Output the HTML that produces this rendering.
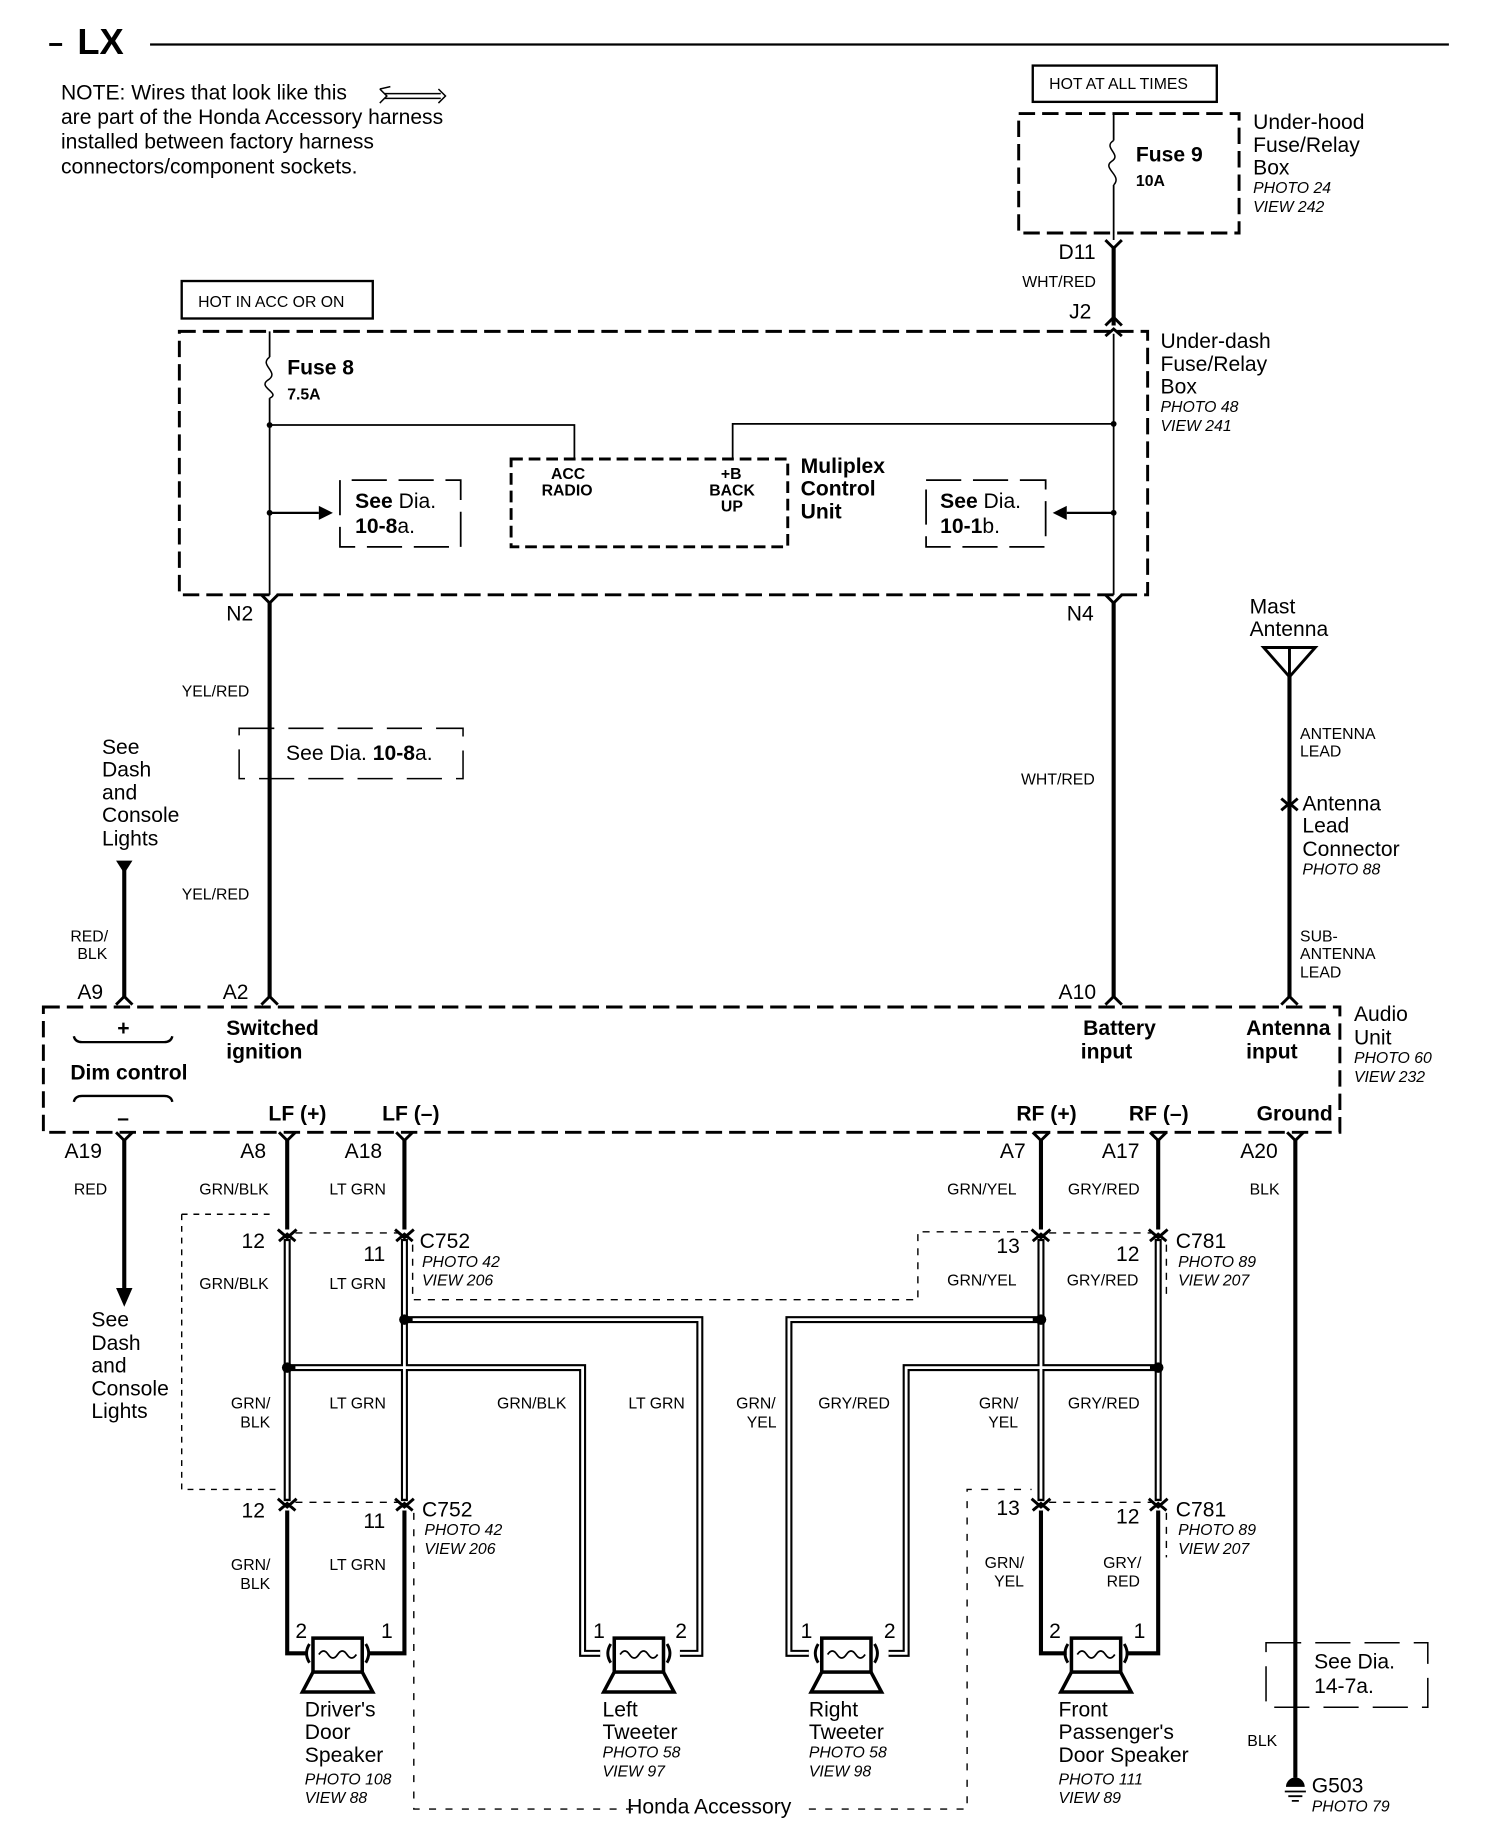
<!DOCTYPE html>
<html><head><meta charset="utf-8"><style>
html,body{margin:0;padding:0;background:#fff}
svg{display:block}
text{font-family:"Liberation Sans",Arial,sans-serif;fill:#000}
.s{font-size:13.5px}.m{font-size:18px}.b{font-weight:bold}.i{font-style:italic;font-size:13.5px}
</style></head><body>
<svg width="1504" height="1836" viewBox="0 0 1283 1568" preserveAspectRatio="none" xmlns="http://www.w3.org/2000/svg">
<rect width="1290" height="1568" fill="#fff"/>
<line x1="42" y1="38" x2="53" y2="38" stroke="#000" stroke-width="2.5"/>
<text x="66" y="46" style="font-size:31px;font-weight:bold">LX</text>
<line x1="128" y1="38" x2="1236" y2="38" stroke="#000" stroke-width="2"/>
<text class="m" x="52" y="85">NOTE: Wires that look like this</text>
<path d="M324 76 L333 74 M328 80 L376 80 M328 84 L376 84 M374 76 L380 82 L374 88 M324 76 L330 82 L324 88" stroke="#000" stroke-width="1.3" fill="none"/>
<text class="m" x="52" y="106">are part of the Honda Accessory harness</text>
<text class="m" x="52" y="127">installed between factory harness</text>
<text class="m" x="52" y="148">connectors/component sockets.</text>

<g fill="none" stroke="#000">
<rect x="881" y="56" width="157" height="31" stroke-width="2"/>
<rect x="155" y="240" width="163" height="32" stroke-width="2"/>
<rect x="869" y="97" width="188" height="102" stroke-width="2.5" stroke-dasharray="14,6"/>
<rect x="153" y="283" width="826" height="225" stroke-width="2.5" stroke-dasharray="14,6"/>
<rect x="436" y="392" width="236" height="75" stroke-width="2.5" stroke-dasharray="10,5"/>
<path d="M300 410 H393 V467 H290 V410 Z" stroke-width="1.5" stroke-dasharray="30,10"/>
<path d="M790 410 H892 V467 H790 Z" stroke-width="1.5" stroke-dasharray="30,10"/>
<path d="M204 622 H395 V665 H204 Z" stroke-width="1.3" stroke-dasharray="30,12"/>
<path d="M1080 1403 H1218 V1458 H1080 Z" stroke-width="1.3" stroke-dasharray="30,12"/>
<rect x="37" y="860" width="1106" height="107" stroke-width="2.5" stroke-dasharray="14,6"/>
<path d="M155 1037 H232 M155 1037 V1272 H235" stroke-width="1.2" stroke-dasharray="5,5"/>
<path d="M352 1063 V1110 H783 V1052 H880" stroke-width="1.2" stroke-dasharray="6,6"/>
<path d="M252 1053 H340" stroke-width="1.2" stroke-dasharray="6,6"/>
<path d="M895 1053 H982" stroke-width="1.2" stroke-dasharray="6,6"/>
<path d="M995 1063 V1110" stroke-width="1.2" stroke-dasharray="6,6"/>
<path d="M252 1283 H340" stroke-width="1.2" stroke-dasharray="6,6"/>
<path d="M895 1283 H982" stroke-width="1.2" stroke-dasharray="6,6"/>
<path d="M353 1292 V1545 H540 M690 1545 H825 V1272 H880" stroke-width="1.2" stroke-dasharray="6,8"/>
<path d="M995 1292 V1330" stroke-width="1.2" stroke-dasharray="6,6"/>

<path d="M950 97 V120 M950 158 V205" stroke-width="1.5"/>
<path d="M950 120 C940 126 958 132 948 138 C940 144 958 150 950 158" stroke-width="1.3"/>
<path d="M230 283 V305 M230 340 V508" stroke-width="1.5"/>
<path d="M230 305 C220 312 240 318 228 325 C220 331 240 336 230 340" stroke-width="1.3"/>
<path d="M230 363 H490 V392 M625 392 V362 H950" stroke-width="1.5"/>
<path d="M950 285 V508" stroke-width="1.5"/>
<path d="M230 438 H272" stroke-width="2"/>
<path d="M950 438 H910" stroke-width="2"/>

<g stroke-width="3.5">
<path d="M950 210 V278"/>
<path d="M230 515 V852"/>
<path d="M950 515 V852"/>
<path d="M1100 575 V852"/>
<path d="M106 742 V852"/>
<path d="M106 973 V1100"/>
<path d="M245 973 V1050 M345 973 V1050 M888 973 V1050 M988 973 V1050"/>
<path d="M245 1290 V1412 H262 M345 1290 V1412 H314"/>
<path d="M888 1290 V1412 H910 M988 1290 V1412 H962"/>
<path d="M1105 973 V1518"/>
</g>
<path d="M1078 553 H1122 L1100 578 Z M1100 553 V578" stroke-width="2.5"/>
<g stroke-width="2.5">
<path d="M943 205 L950 212 L957 205 M943 278 L950 271 L957 278"/>
<path d="M943 287 L950 281 L957 287"/>
<path d="M223 508 L230 515 L237 508 M943 508 L950 515 L957 508"/>
<path d="M223 858 L230 851 L237 858 M943 858 L950 851 L957 858 M1093 858 L1100 851 L1107 858 M99 858 L106 851 L113 858"/>
<path d="M99 967 L106 974 L113 967 M238 967 L245 974 L252 967 M338 967 L345 974 L352 967 M881 967 L888 974 L895 967 M981 967 L988 974 L995 967 M1098 967 L1105 974 L1112 967"/>
<path d="M1093 682 L1100 688 L1107 682 M1093 692 L1100 686 L1107 692"/>
<path d="M237 1050 L245 1057 L253 1050 M238 1060 L245 1054 L252 1060 M337 1050 L345 1057 L353 1050 M338 1060 L345 1054 L352 1060 M880 1050 L888 1057 L896 1050 M881 1060 L888 1054 L895 1060 M980 1050 L988 1057 L996 1050 M981 1060 L988 1054 L995 1060"/>
<path d="M237 1280 L245 1287 L253 1280 M238 1290 L245 1284 L252 1290 M337 1280 L345 1287 L353 1280 M338 1290 L345 1284 L352 1290 M880 1280 L888 1287 L896 1280 M881 1290 L888 1284 L895 1290 M980 1280 L988 1287 L996 1280 M981 1290 L988 1284 L995 1290"/>
</g>
<path d="M63 885 Q64 890 70 890 H140 Q146 890 147 885 M63 941 Q64 936 70 936 H140 Q146 936 147 941" stroke-width="2"/>
<g stroke-width="6">
<path d="M245 1058 V1282 M345 1058 V1282 M888 1058 V1282 M988 1058 V1282"/>
<path d="M245 1168 H497 V1412 H512 M345 1127 H597 V1412 H580"/>
<path d="M888 1127 H673 V1412 H690 M988 1168 H773 V1412 H758"/>
</g>
<g stroke="#fff" stroke-width="2.4">
<path d="M245 1060 V1280 M345 1060 V1280 M888 1060 V1280 M988 1060 V1280"/>
<path d="M252 1168 H497 V1412 H512 M352 1127 H597 V1412 H580"/>
<path d="M881 1127 H673 V1412 H690 M981 1168 H773 V1412 H758"/>
</g>
<g stroke-width="3">
<rect x="267" y="1399" width="42" height="29"/><path d="M267 1428 L258 1445 H318 L309 1428"/>
<rect x="524" y="1399" width="42" height="29"/><path d="M524 1428 L515 1445 H575 L566 1428"/>
<rect x="701" y="1399" width="42" height="29"/><path d="M701 1428 L692 1445 H752 L743 1428"/>
<rect x="914" y="1399" width="42" height="29"/><path d="M914 1428 L905 1445 H965 L956 1428"/>
</g>
<g stroke-width="1.5">
<path d="M272 1413 q4 -6 8 0 q4 6 8 0 q4 -6 8 0 q4 6 8 0"/>
<path d="M529 1413 q4 -6 8 0 q4 6 8 0 q4 -6 8 0 q4 6 8 0"/>
<path d="M706 1413 q4 -6 8 0 q4 6 8 0 q4 -6 8 0 q4 6 8 0"/>
<path d="M919 1413 q4 -6 8 0 q4 6 8 0 q4 -6 8 0 q4 6 8 0"/>
</g>
<g stroke-width="2.5">
<path d="M264 1404 q-5 8 0 16 M312 1404 q5 8 0 16 M521 1404 q-5 8 0 16 M569 1404 q5 8 0 16 M698 1404 q-5 8 0 16 M746 1404 q5 8 0 16 M911 1404 q-5 8 0 16 M959 1404 q5 8 0 16"/>
</g>
<path d="M1096 1530 H1114 M1099 1534 H1111 M1102 1538 H1108" stroke-width="1.5"/>
</g>
<g fill="#000">
<circle cx="230" cy="363" r="2.5"/><circle cx="230" cy="438" r="2.5"/><circle cx="950" cy="362" r="2.5"/><circle cx="950" cy="438" r="2.5"/>
<path d="M272 432 L284 438 L272 444 Z"/><path d="M910 432 L898 438 L910 444 Z"/>
<path d="M99 735 H113 L106 746 Z"/>
<path d="M99 1100 L113 1100 L106 1116 Z"/>
<circle cx="245" cy="1168" r="4.5"/><circle cx="345" cy="1127" r="4.5"/><circle cx="888" cy="1127" r="4.5"/><circle cx="988" cy="1168" r="4.5"/>
<path d="M1097 1526 a8 8 0 0 1 16 0 Z"/>
</g>

<text class="s" x="895" y="76">HOT AT ALL TIMES</text>
<text class="s" x="169" y="262">HOT IN ACC OR ON</text>
<text class="m b" x="969" y="138">Fuse 9</text>
<text class="s b" x="969" y="159">10A</text>
<text class="m" x="1069" y="110">Under-hood</text>
<text class="m" x="1069" y="130">Fuse/Relay</text>
<text class="m" x="1069" y="149">Box</text>
<text class="i" x="1069" y="165">PHOTO 24</text>
<text class="i" x="1069" y="181">VIEW 242</text>
<text class="m" x="903" y="221">D11</text>
<text class="s" x="872" y="245">WHT/RED</text>
<text class="m" x="912" y="272">J2</text>
<text class="m" x="990" y="297">Under-dash</text>
<text class="m" x="990" y="317">Fuse/Relay</text>
<text class="m" x="990" y="336">Box</text>
<text class="i" x="990" y="352">PHOTO 48</text>
<text class="i" x="990" y="368">VIEW 241</text>
<text class="m b" x="245" y="320">Fuse 8</text>
<text class="s b" x="245" y="341">7.5A</text>
<text class="s b" x="470" y="409">ACC</text>
<text class="s b" x="462" y="423">RADIO</text>
<text class="s b" x="615" y="409">+B</text>
<text class="s b" x="605" y="423">BACK</text>
<text class="s b" x="615" y="437">UP</text>
<text class="m b" x="683" y="404">Muliplex</text>
<text class="m b" x="683" y="423">Control</text>
<text class="m b" x="683" y="443">Unit</text>
<text class="m" x="303" y="434"><tspan font-weight="bold">See</tspan> Dia.</text>
<text class="m" x="303" y="455"><tspan font-weight="bold">10-8</tspan>a.</text>
<text class="m" x="802" y="434"><tspan font-weight="bold">See</tspan> Dia.</text>
<text class="m" x="802" y="455"><tspan font-weight="bold">10-1</tspan>b.</text>
<text class="m" x="193" y="530">N2</text>
<text class="m" x="910" y="530">N4</text>
<text class="s" x="155" y="595">YEL/RED</text>
<text class="m" x="244" y="649">See Dia. <tspan font-weight="bold">10-8</tspan>a.</text>
<text class="s" x="155" y="768">YEL/RED</text>
<text class="s" x="871" y="670">WHT/RED</text>
<text class="m" x="1066" y="524">Mast</text>
<text class="m" x="1066" y="543">Antenna</text>
<text class="s" x="1109" y="631">ANTENNA</text>
<text class="s" x="1109" y="646">LEAD</text>
<text class="m" x="1111" y="692">Antenna</text>
<text class="m" x="1111" y="711">Lead</text>
<text class="m" x="1111" y="731">Connector</text>
<text class="i" x="1111" y="747">PHOTO 88</text>
<text class="s" x="1109" y="804">SUB-</text>
<text class="s" x="1109" y="819">ANTENNA</text>
<text class="s" x="1109" y="835">LEAD</text>
<text class="m" x="87" y="644">See</text>
<text class="m" x="87" y="663">Dash</text>
<text class="m" x="87" y="683">and</text>
<text class="m" x="87" y="702">Console</text>
<text class="m" x="87" y="722">Lights</text>
<text class="s" x="60" y="804">RED/</text>
<text class="s" x="66" y="819">BLK</text>
<text class="m" x="66" y="853">A9</text>
<text class="m" x="190" y="853">A2</text>
<text class="m" x="903" y="853">A10</text>
<text class="m" x="1155" y="872">Audio</text>
<text class="m" x="1155" y="892">Unit</text>
<text class="i" x="1155" y="908">PHOTO 60</text>
<text class="i" x="1155" y="924">VIEW 232</text>
<text class="m b" x="100" y="884">+</text>
<text class="m b" x="60" y="922">Dim control</text>
<text class="m b" x="100" y="961">–</text>
<text class="m b" x="193" y="884">Switched</text>
<text class="m b" x="193" y="904">ignition</text>
<text class="m b" x="924" y="884">Battery</text>
<text class="m b" x="922" y="904">input</text>
<text class="m b" x="1063" y="884">Antenna</text>
<text class="m b" x="1063" y="904">input</text>
<text class="m b" x="229" y="957">LF (+)</text>
<text class="m b" x="326" y="957">LF (–)</text>
<text class="m b" x="867" y="957">RF (+)</text>
<text class="m b" x="963" y="957">RF (–)</text>
<text class="m b" x="1072" y="957">Ground</text>
<text class="m" x="55" y="989">A19</text>
<text class="m" x="205" y="989">A8</text>
<text class="m" x="294" y="989">A18</text>
<text class="m" x="853" y="989">A7</text>
<text class="m" x="940" y="989">A17</text>
<text class="m" x="1058" y="989">A20</text>
<text class="s" x="63" y="1020">RED</text>
<text class="s" x="170" y="1020">GRN/BLK</text>
<text class="s" x="281" y="1020">LT GRN</text>
<text class="s" x="808" y="1020">GRN/YEL</text>
<text class="s" x="911" y="1020">GRY/RED</text>
<text class="s" x="1066" y="1020">BLK</text>
<text class="m" x="206" y="1066">12</text>
<text class="m" x="310" y="1077">11</text>
<text class="m" x="358" y="1066">C752</text>
<text class="i" x="360" y="1082">PHOTO 42</text>
<text class="i" x="360" y="1098">VIEW 206</text>
<text class="m" x="850" y="1070">13</text>
<text class="m" x="952" y="1077">12</text>
<text class="m" x="1003" y="1066">C781</text>
<text class="i" x="1005" y="1082">PHOTO 89</text>
<text class="i" x="1005" y="1098">VIEW 207</text>
<text class="s" x="170" y="1101">GRN/BLK</text>
<text class="s" x="281" y="1101">LT GRN</text>
<text class="s" x="808" y="1098">GRN/YEL</text>
<text class="s" x="910" y="1098">GRY/RED</text>
<text class="m" x="78" y="1133">See</text>
<text class="m" x="78" y="1153">Dash</text>
<text class="m" x="78" y="1172">and</text>
<text class="m" x="78" y="1192">Console</text>
<text class="m" x="78" y="1211">Lights</text>
<text class="s" x="197" y="1203">GRN/</text>
<text class="s" x="205" y="1219">BLK</text>
<text class="s" x="281" y="1203">LT GRN</text>
<text class="s" x="424" y="1203">GRN/BLK</text>
<text class="s" x="536" y="1203">LT GRN</text>
<text class="s" x="628" y="1203">GRN/</text>
<text class="s" x="637" y="1219">YEL</text>
<text class="s" x="698" y="1203">GRY/RED</text>
<text class="s" x="835" y="1203">GRN/</text>
<text class="s" x="843" y="1219">YEL</text>
<text class="s" x="911" y="1203">GRY/RED</text>
<text class="m" x="206" y="1296">12</text>
<text class="m" x="310" y="1305">11</text>
<text class="m" x="360" y="1295">C752</text>
<text class="i" x="362" y="1311">PHOTO 42</text>
<text class="i" x="362" y="1327">VIEW 206</text>
<text class="m" x="850" y="1294">13</text>
<text class="m" x="952" y="1301">12</text>
<text class="m" x="1003" y="1295">C781</text>
<text class="i" x="1005" y="1311">PHOTO 89</text>
<text class="i" x="1005" y="1327">VIEW 207</text>
<text class="s" x="197" y="1341">GRN/</text>
<text class="s" x="205" y="1357">BLK</text>
<text class="s" x="281" y="1341">LT GRN</text>
<text class="s" x="840" y="1339">GRN/</text>
<text class="s" x="848" y="1355">YEL</text>
<text class="s" x="941" y="1339">GRY/</text>
<text class="s" x="944" y="1355">RED</text>
<text class="m" x="252" y="1399">2</text>
<text class="m" x="325" y="1399">1</text>
<text class="m" x="506" y="1399">1</text>
<text class="m" x="576" y="1399">2</text>
<text class="m" x="683" y="1399">1</text>
<text class="m" x="754" y="1399">2</text>
<text class="m" x="895" y="1399">2</text>
<text class="m" x="967" y="1399">1</text>
<text class="m" x="260" y="1466">Driver's</text>
<text class="m" x="260" y="1485">Door</text>
<text class="m" x="260" y="1505">Speaker</text>
<text class="i" x="260" y="1524">PHOTO 108</text>
<text class="i" x="260" y="1540">VIEW 88</text>
<text class="m" x="514" y="1466">Left</text>
<text class="m" x="514" y="1485">Tweeter</text>
<text class="i" x="514" y="1501">PHOTO 58</text>
<text class="i" x="514" y="1517">VIEW 97</text>
<text class="m" x="690" y="1466">Right</text>
<text class="m" x="690" y="1485">Tweeter</text>
<text class="i" x="690" y="1501">PHOTO 58</text>
<text class="i" x="690" y="1517">VIEW 98</text>
<text class="m" x="903" y="1466">Front</text>
<text class="m" x="903" y="1485">Passenger's</text>
<text class="m" x="903" y="1505">Door Speaker</text>
<text class="i" x="903" y="1524">PHOTO 111</text>
<text class="i" x="903" y="1540">VIEW 89</text>
<text class="m" x="535" y="1549">Honda Accessory</text>
<text class="m" x="1121" y="1425">See Dia.</text>
<text class="m" x="1121" y="1446">14-7a.</text>
<text class="s" x="1064" y="1491">BLK</text>
<text class="m" x="1119" y="1531">G503</text>
<text class="i" x="1119" y="1547">PHOTO 79</text>
</svg>
</body></html>
